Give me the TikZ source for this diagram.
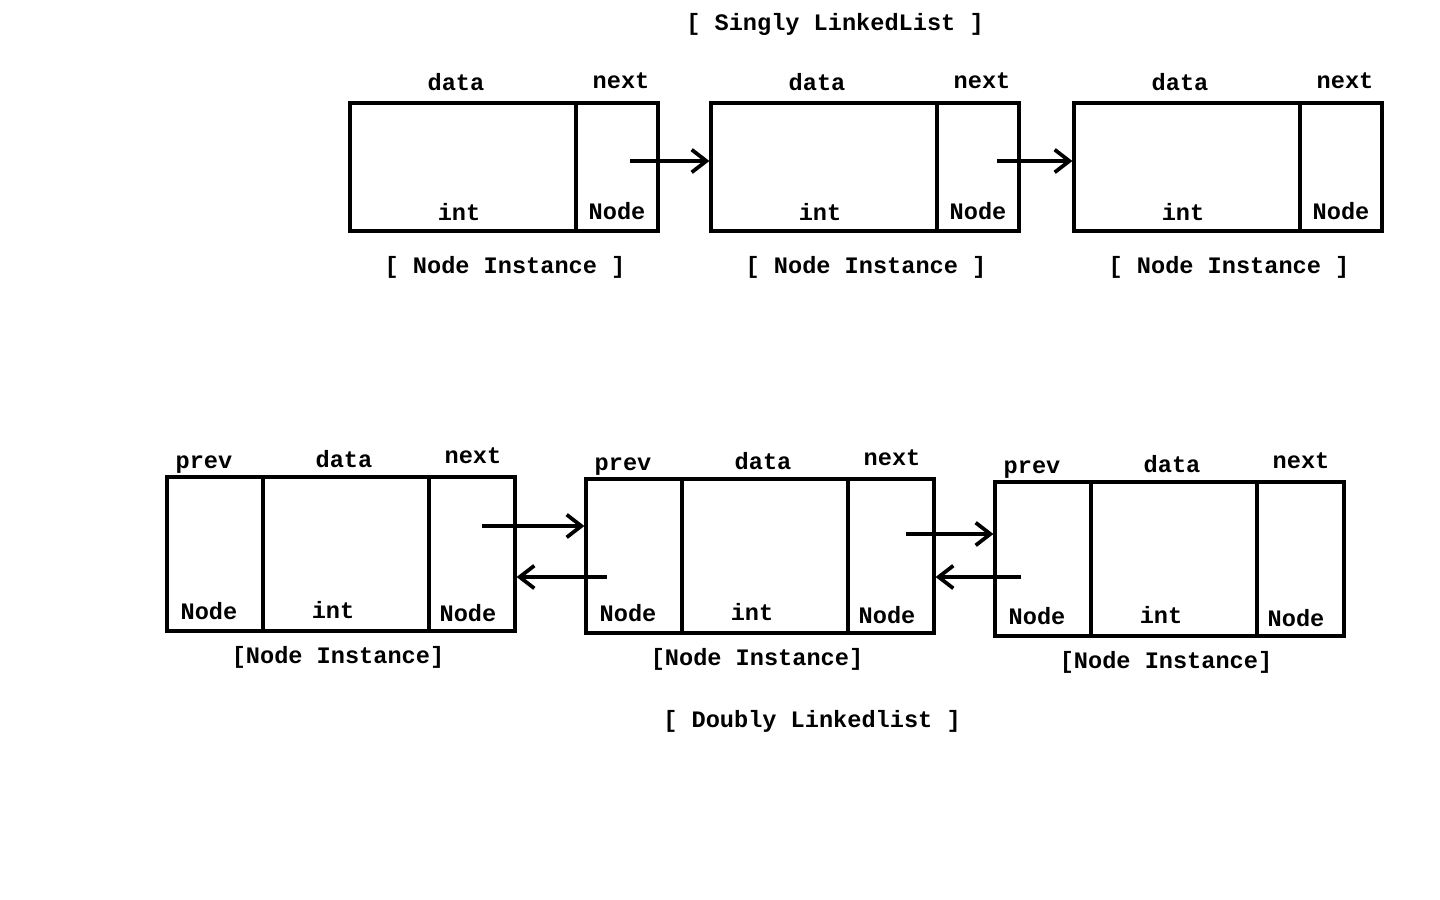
\documentclass[tikz,border=0pt]{standalone}
\usepackage{fontspec}
\setmainfont{Liberation Mono}
\usetikzlibrary{arrows.meta}
\tikzset{
  cell/.style={draw=black, line width=2.4pt, inner sep=0pt, rectangle},
  lbl/.style={font=\fontsize{17.7pt}{20pt}\selectfont\bfseries, inner sep=0pt, text height=0.62em, text depth=0pt, anchor=center, yshift=-2.25pt},
  link/.style={line width=2.6pt, -{Straight Barb[length=11pt,width=17pt,line width=2.8pt]}}
}
\begin{document}
\begin{tikzpicture}[x=0.75pt,y=-0.75pt]
\useasboundingbox[fill=white] (0,0) rectangle (1440,900);

% ---------- Singly linked list ----------
\node[lbl] (stitle) at (835,23) {[ Singly LinkedList ]};

% box 1
\node[cell, minimum width=226*0.75pt, minimum height=128*0.75pt] (sd1) at (463,167) {};
\node[cell, minimum width=82*0.75pt, minimum height=128*0.75pt] (sn1) at (617,167) {};
% box 2
\node[cell, minimum width=226*0.75pt, minimum height=128*0.75pt] (sd2) at (824,167) {};
\node[cell, minimum width=82*0.75pt, minimum height=128*0.75pt] (sn2) at (978,167) {};
% box 3
\node[cell, minimum width=226*0.75pt, minimum height=128*0.75pt] (sd3) at (1187,167) {};
\node[cell, minimum width=82*0.75pt, minimum height=128*0.75pt] (sn3) at (1341,167) {};

\node[lbl] (sdl1) at (456,83) {data};
\node[lbl] (snl1) at (621,81) {next};
\node[lbl] (sil1) at (459,213) {int};
\node[lbl] (stl1) at (617,212) {Node};
\node[lbl] (sni1) at (505,266) {[ Node Instance ]};

\node[lbl] (sdl2) at (817,83) {data};
\node[lbl] (snl2) at (982,81) {next};
\node[lbl] (sil2) at (820,213) {int};
\node[lbl] (stl2) at (978,212) {Node};
\node[lbl] (sni2) at (866,266) {[ Node Instance ]};

\node[lbl] (sdl3) at (1180,83) {data};
\node[lbl] (snl3) at (1345,81) {next};
\node[lbl] (sil3) at (1183,213) {int};
\node[lbl] (stl3) at (1341,212) {Node};
\node[lbl] (sni3) at (1229,266) {[ Node Instance ]};

\coordinate (sa1) at (630,161);
\coordinate (sa2) at (997,161);
\draw[link] (sa1) -- (sa1 -| sd2.west);
\draw[link] (sa2) -- (sa2 -| sd3.west);

% ---------- Doubly linked list ----------
% box 1
\node[cell, minimum width=96*0.75pt, minimum height=154*0.75pt] (dp1) at (215,554) {};
\node[cell, minimum width=166*0.75pt, minimum height=154*0.75pt] (dd1) at (346,554) {};
\node[cell, minimum width=86*0.75pt, minimum height=154*0.75pt] (dn1) at (472,554) {};
% box 2
\node[cell, minimum width=96*0.75pt, minimum height=154*0.75pt] (dp2) at (634,556) {};
\node[cell, minimum width=166*0.75pt, minimum height=154*0.75pt] (dd2) at (765,556) {};
\node[cell, minimum width=86*0.75pt, minimum height=154*0.75pt] (dn2) at (891,556) {};
% box 3
\node[cell, minimum width=96*0.75pt, minimum height=154*0.75pt] (dp3) at (1043,559) {};
\node[cell, minimum width=166*0.75pt, minimum height=154*0.75pt] (dd3) at (1174,559) {};
\node[cell, minimum width=87*0.75pt, minimum height=154*0.75pt] (dn3) at (1300.5,559) {};

\node[lbl] (dpl1) at (204,461) {prev};
\node[lbl] (ddl1) at (344,460) {data};
\node[lbl] (dnl1) at (473,456) {next};
\node[lbl] (dtp1) at (209,612) {Node};
\node[lbl] (dil1) at (333,611) {int};
\node[lbl] (dtn1) at (468,614) {Node};
\node[lbl] (dni1) at (338,656) {[Node Instance]};

\node[lbl] (dpl2) at (623,463) {prev};
\node[lbl] (ddl2) at (763,462) {data};
\node[lbl] (dnl2) at (892,458) {next};
\node[lbl] (dtp2) at (628,614) {Node};
\node[lbl] (dil2) at (752,613) {int};
\node[lbl] (dtn2) at (887,616) {Node};
\node[lbl] (dni2) at (757,658) {[Node Instance]};

\node[lbl] (dpl3) at (1032,466) {prev};
\node[lbl] (ddl3) at (1172,465) {data};
\node[lbl] (dnl3) at (1301,461) {next};
\node[lbl] (dtp3) at (1037,617) {Node};
\node[lbl] (dil3) at (1161,616) {int};
\node[lbl] (dtn3) at (1296,619) {Node};
\node[lbl] (dni3) at (1166,661) {[Node Instance]};

\node[lbl] (dtitle) at (812,720) {[ Doubly Linkedlist ]};

\coordinate (df1) at (482,526);
\coordinate (db1) at (607,577);
\coordinate (df2) at (906,534);
\coordinate (db2) at (1021,577);
\draw[link] (df1) -- (df1 -| dp2.west);
\draw[link] (db1) -- (db1 -| dn1.east);
\draw[link] (df2) -- (df2 -| dp3.west);
\draw[link] (db2) -- (db2 -| dn2.east);
\end{tikzpicture}
\end{document}
